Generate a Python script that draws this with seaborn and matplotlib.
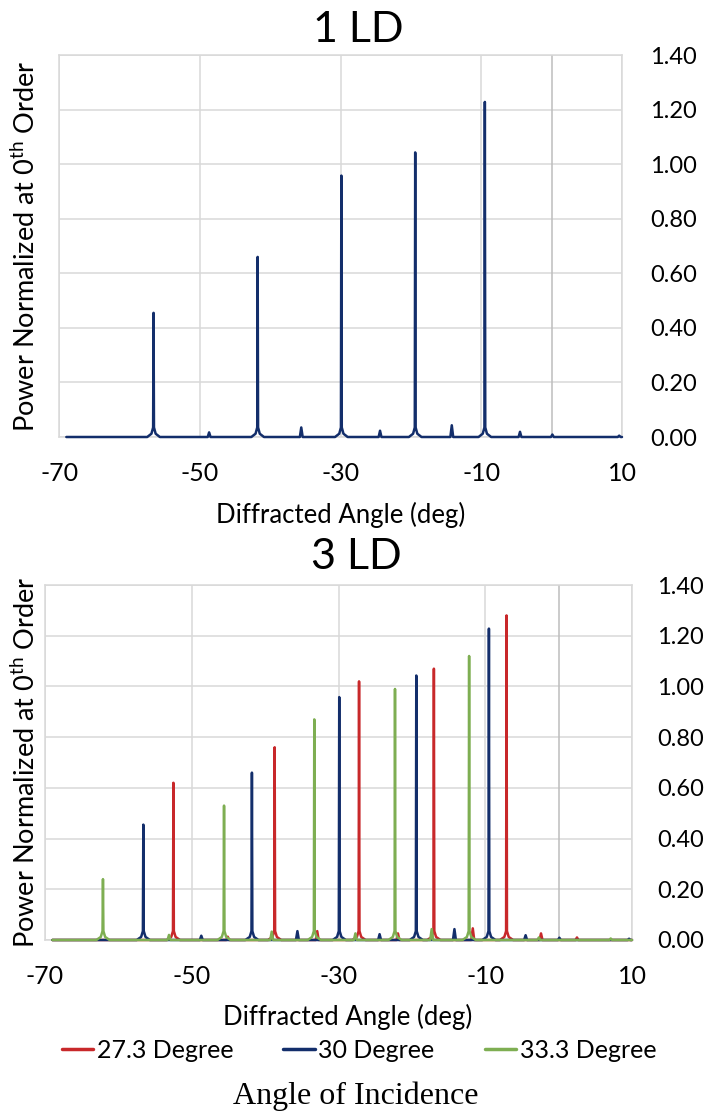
import numpy as np
import pandas as pd
import matplotlib
matplotlib.use("Agg")
import matplotlib.pyplot as plt
import seaborn as sns
from matplotlib.lines import Line2D

# ---------------- data ----------------
series_names = ["27.3 Degree", "30 Degree", "33.3 Degree"]
series_colors = ["#C8282A", "#132E6B", "#7EAE52"]

red_main_angle = [-52.5, -38.7, -27.2, -17.0, -7.1]
red_main_power = [0.62, 0.76, 1.02, 1.07, 1.28]
red_minor_angle = [-45.1, -32.9, -21.9, -11.7, -2.4, 2.5]
red_minor_power = [0.013, 0.035, 0.026, 0.046, 0.026, 0.010]

blue_main_angle = [-56.6, -41.8, -29.9, -19.4, -9.5]
blue_main_power = [0.455, 0.66, 0.958, 1.043, 1.228]
blue_minor_angle = [-48.7, -35.6, -24.4, -14.2, -4.5, 0.1, 9.6]
blue_minor_power = [0.017, 0.035, 0.023, 0.043, 0.019, 0.009, 0.005]

green_main_angle = [-62.1, -45.6, -33.3, -22.3, -12.2]
green_main_power = [0.24, 0.53, 0.87, 0.99, 1.12]
green_minor_angle = [-53.1, -39.1, -27.7, -17.3, -2.7, 7.1]
green_minor_power = [0.020, 0.033, 0.026, 0.043, 0.010, 0.006]

x_ticks = [-70, -50, -30, -10, 10]
y_ticks = [0.0, 0.2, 0.4, 0.6, 0.8, 1.0, 1.2, 1.4]
panel_titles = ["1 LD", "3 LD"]

# peak shape (style): offsets in deg and skirt level
MAIN_OFF = [-0.9, -0.3, -0.06, 0.0, 0.06, 0.3, 0.9]
SKIRT = [0.0, 0.012, 0.035, None, 0.035, 0.012, 0.0]
MINOR_OFF = [-0.2, 0.0, 0.2]


def trace(main_a, main_p, minor_a, minor_p):
    ev = sorted([(a, p, True) for a, p in zip(main_a, main_p)] +
                [(a, p, False) for a, p in zip(minor_a, minor_p)])
    xs, ys = [-69.0], [0.0]
    for a, p, is_main in ev:
        if is_main:
            for o, s in zip(MAIN_OFF, SKIRT):
                xs.append(a + o)
                ys.append(p if s is None else s)
        else:
            for o, s in zip(MINOR_OFF, [0.0, p, 0.0]):
                xs.append(a + o)
                ys.append(s)
    xs.append(10.0)
    ys.append(0.0)
    return xs, ys


frames = []
for name, args in zip(series_names,
                      [(red_main_angle, red_main_power, red_minor_angle, red_minor_power),
                       (blue_main_angle, blue_main_power, blue_minor_angle, blue_minor_power),
                       (green_main_angle, green_main_power, green_minor_angle, green_minor_power)]):
    xs, ys = trace(*args)
    frames.append(pd.DataFrame({"angle": xs, "power": ys, "series": name}))
df = pd.concat(frames, ignore_index=True)

# ---------------- style ----------------
sns.set_theme(style="white")
plt.rcParams["font.family"] = ["Lato", "DejaVu Sans"]
plt.rcParams["mathtext.fontset"] = "custom"
plt.rcParams["mathtext.rm"] = "Lato"
plt.rcParams["mathtext.it"] = "Lato:italic"
plt.rcParams["text.color"] = "black"
plt.rcParams["xtick.color"] = "black"
plt.rcParams["ytick.color"] = "black"

W, H = 707, 1112
fig = plt.figure(figsize=(W / 100, H / 100), dpi=100)
fig.patch.set_facecolor("white")

ax1 = fig.add_axes([59.3 / W, 1 - 437 / H, 562.7 / W, 382 / H])
ax2 = fig.add_axes([45 / W, 1 - 940 / H, 587 / W, 355 / H])

palette = dict(zip(series_names, series_colors))

sns.lineplot(data=df[df.series == "30 Degree"], x="angle", y="power", hue="series",
             palette=palette, sort=False, estimator=None, lw=1.8, ax=ax1,
             legend=False, clip_on=False, zorder=3)
for name in series_names:
    sns.lineplot(data=df[df.series == name], x="angle", y="power", hue="series",
                 palette=palette, sort=False, estimator=None, lw=1.8, ax=ax2,
                 legend=False, clip_on=False, zorder=3)

grid_c = "#D9D9D9"
for ax, pad_y in [(ax1, 20), (ax2, 18)]:
    ax.set_xlim(-70, 10)
    ax.set_ylim(0, 1.4)
    ax.set_xticks(x_ticks)
    ax.set_xticklabels([str(t) for t in x_ticks])
    ax.set_yticks(y_ticks)
    ax.set_yticklabels([f"{t:.2f}" for t in y_ticks])
    ax.yaxis.tick_right()
    ax.tick_params(axis="y", length=0, pad=pad_y, labelsize=17, labelcolor="black")
    ax.tick_params(axis="x", length=0, pad=18, labelsize=18, labelcolor="black")
    ax.grid(True, color=grid_c, lw=1.1)
    ax.axvline(0, color="#BDBDBD", lw=1.1, zorder=1)
    for s in ax.spines.values():
        s.set_color(grid_c)
        s.set_linewidth(1.1)
    ax.set_xlabel("")
    ax.set_ylabel("")
    ax.set_facecolor("white")

# titles
fig.text(358 / W, 1 - 30 / H, panel_titles[0], ha="center", va="center", fontsize=31)
fig.text(356 / W, 1 - 557 / H, panel_titles[1], ha="center", va="center", fontsize=31)

# axis labels
ylab = "Power Normalized at 0$^{\\mathrm{th}}$ Order"
fig.text(26 / W, 1 - 246 / H, ylab, rotation=90, ha="center", va="center", fontsize=19.5)
fig.text(26 / W, 1 - 762 / H, ylab, rotation=90, ha="center", va="center", fontsize=19.5)
fig.text(341 / W, 1 - 515 / H, "Diffracted Angle (deg)", ha="center", va="center", fontsize=18.5)
fig.text(348 / W, 1 - 1017 / H, "Diffracted Angle (deg)", ha="center", va="center", fontsize=18.5)

# legend
handles = [Line2D([0], [0], color=c, lw=2.5) for c in series_colors]
fig.legend(handles, series_names, loc="center", bbox_to_anchor=(359 / W, 1 - 1050 / H),
           ncol=3, frameon=False, fontsize=18, handlelength=1.25, handletextpad=0.15,
           columnspacing=2.0)

fig.text(356 / W, 1 - 1096 / H, "Angle of Incidence", ha="center", va="center",
         fontsize=23, family=["Liberation Serif", "DejaVu Serif"])

fig.savefig("out.png", dpi=100, facecolor="white")
